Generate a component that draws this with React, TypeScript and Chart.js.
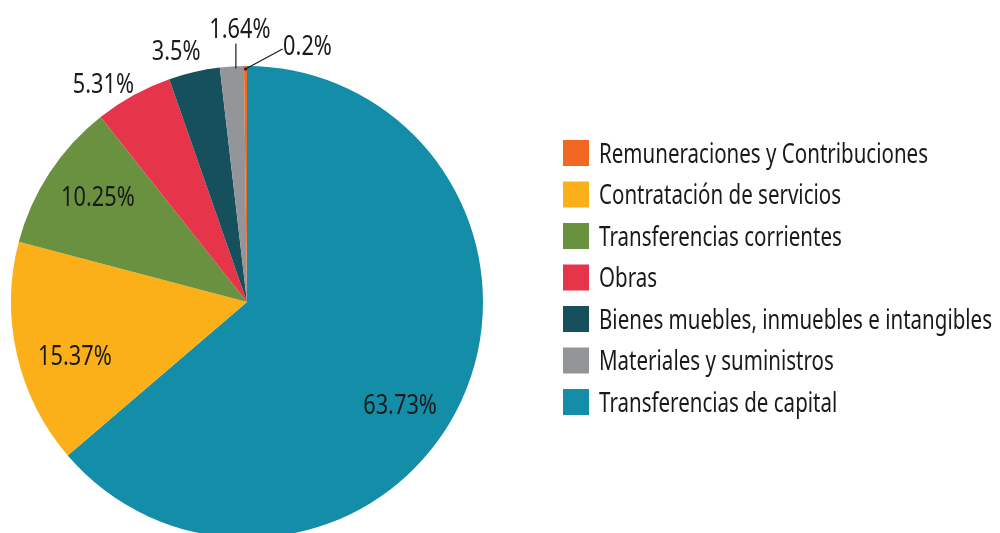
import React, { useEffect, useRef } from "react";
import { Chart, registerables } from "chart.js";

Chart.register(...registerables);

const categories = [
  "Transferencias de capital",
  "Contratación de servicios",
  "Transferencias corrientes",
  "Obras",
  "Bienes muebles, inmuebles e intangibles",
  "Materiales y suministros",
  "Remuneraciones y Contribuciones",
];
const values = [63.73, 15.37, 10.25, 5.31, 3.5, 1.64, 0.2];
const valueLabels = ["63.73%", "15.37%", "10.25%", "5.31%", "3.5%", "1.64%", "0.2%"];
const colors = ["#138da8", "#fbb01a", "#6a9140", "#e6344a", "#15505c", "#939598", "#f26722"];
const legendOrder = [
  "Remuneraciones y Contribuciones",
  "Contratación de servicios",
  "Transferencias corrientes",
  "Obras",
  "Bienes muebles, inmuebles e intangibles",
  "Materiales y suministros",
  "Transferencias de capital",
];

const FONT = '28px "Noto Sans", "Open Sans", sans-serif';

function drawText(ctx: CanvasRenderingContext2D, text: string, x: number, y: number, sx: number, align: "left" | "center") {
  ctx.save();
  ctx.font = FONT;
  ctx.textBaseline = "alphabetic";
  ctx.textAlign = "left";
  const w = ctx.measureText(text).width * sx;
  const left = align === "center" ? x - w / 2 : x;
  ctx.translate(left, y);
  ctx.scale(sx, 1);
  ctx.fillText(text, 0, 0);
  ctx.restore();
}

const labelPlugin = {
  id: "pieLabels",
  afterDraw(chart: any) {
    const ctx: CanvasRenderingContext2D = chart.ctx;
    ctx.save();
    ctx.font = FONT;
    const sx = 329 / ctx.measureText("Remuneraciones y Contribuciones").width;
    const lsx = sx * 1.06;
    ctx.fillStyle = "#1a1a1a";
    ctx.strokeStyle = "#1a1a1a";
    const meta = chart.getDatasetMeta(0);
    const total = values.reduce((a, b) => a + b, 0);
    meta.data.forEach((arc: any, i: number) => {
      const p = arc.getProps(["x", "y", "startAngle", "endAngle", "outerRadius"], true);
      const mid = (p.startAngle + p.endAngle) / 2;
      const R = p.outerRadius;
      const frac = values[i] / total;
      const cos = Math.cos(mid);
      const sin = Math.sin(mid);
      const ex = p.x + R * cos;
      const ey = p.y + R * sin;
      let cx: number, cy: number;
      if (frac > 0.08) {
        cx = p.x + 0.77 * R * cos;
        cy = p.y + 0.77 * R * sin;
        if (i === 0) { cx -= 12; cy += 26; }
        if (i === 1) { cx += 5; cy += 12; }
        if (i === 2) { cx += 3; cy -= 6; }
      } else if (frac > 0.03) {
        if (i === 3) { cx = ex - 30; cy = ey - 12; }
        else { cx = ex - 18; cy = ey - 22; }
      } else if (frac > 0.01) {
        cx = ex + 8;
        cy = ey - 38;
        ctx.lineWidth = 1.2;
        ctx.beginPath();
        ctx.moveTo(ex + 4, ey + 2);
        ctx.lineTo(ex + 4, ey - 23);
        ctx.stroke();
      } else {
        cx = ex + 62;
        cy = ey - 21;
        ctx.lineWidth = 1.2;
        ctx.beginPath();
        ctx.moveTo(ex, ey + 3);
        ctx.lineTo(ex + 37, ey - 17);
        ctx.stroke();
        ctx.beginPath();
        ctx.arc(ex, ey + 3, 1.5, 0, Math.PI * 2);
        ctx.fill();
      }
      drawText(ctx, valueLabels[i], cx, cy + 10, lsx, "center");
    });

    // legend
    const boxX = 563;
    const top0 = 140;
    const pitch = 41.5;
    legendOrder.forEach((name, k) => {
      const idx = categories.indexOf(name);
      const t = top0 + k * pitch;
      ctx.fillStyle = colors[idx];
      ctx.fillRect(boxX, t, 26, 26);
      ctx.fillStyle = "#1a1a1a";
      drawText(ctx, name, 599, t + 22.7, sx, "left");
    });
    ctx.restore();
  },
};

export default function App() {
  const ref = useRef<HTMLCanvasElement | null>(null);
  useEffect(() => {
    document.body.style.margin = "0";
    const chart = new Chart(ref.current as HTMLCanvasElement, {
      type: "pie",
      data: {
        labels: categories,
        datasets: [
          {
            data: values,
            backgroundColor: colors,
            borderWidth: 0,
          },
        ],
      },
      options: {
        animation: false,
        responsive: false,
        maintainAspectRatio: false,
        layout: { padding: { left: 11, top: 66, right: 517, bottom: 2 } },
        plugins: {
          legend: { display: false },
          tooltip: { enabled: false },
        },
      },
      plugins: [labelPlugin],
    });
    return () => chart.destroy();
  }, []);
  return (
    <div style={{ position: "absolute", left: 0, top: 0, width: 1000, height: 533, overflow: "hidden", background: "#fff" }}>
      <canvas ref={ref} width={1000} height={540} style={{ width: 1000, height: 540, display: "block" }} />
    </div>
  );
}
